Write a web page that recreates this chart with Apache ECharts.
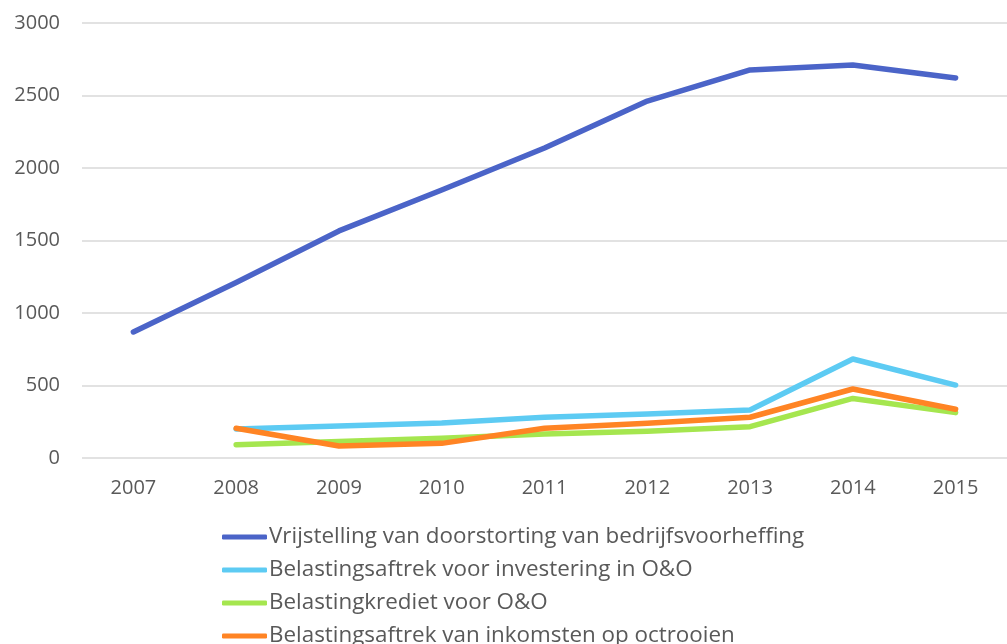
<!DOCTYPE html>
<html><head><meta charset="utf-8">
<script src="https://cdn.jsdelivr.net/npm/echarts@6/dist/echarts.min.js"></script>
<style>html,body{margin:0;padding:0;background:#fff}#c{width:1007px;height:644px}</style>
</head><body><div id="c"></div>
<script>
const years = ['2007','2008','2009','2010','2011','2012','2013','2014','2015'];
const vrijstelling = [869, 1210, 1566, 1848, 2138, 2462, 2676, 2710, 2621];
const aftrekInvestering = [null, 200, 220, 241, 281, 303, 331, 683, 503];
const krediet = [null, 92, 113, 136, 166, 184, 216, 411, 313];
const octrooien = [null, 205, 83, 101, 205, 239, 281, 476, 336];
const names = ['Vrijstelling van doorstorting van bedrijfsvoorheffing','Belastingsaftrek voor investering in O&O','Belastingkrediet voor O&O','Belastingsaftrek van inkomsten op octrooien'];
const colors = ['#4B64C8','#5DCBF3','#A5E64F','#FF8424'];
const yTicks = [0, 500, 1000, 1500, 2000, 2500, 3000];
const chart = echarts.init(document.getElementById('c'), null, {renderer:'canvas'});
const mk = (i, data) => ({name:names[i], type:'line', data, symbol:'none', connectNulls:false,
  lineStyle:{width:5.5, color:colors[i], cap:'round', join:'round'}, itemStyle:{color:colors[i]}});
const legends = names.map((n, i) => ({orient:'vertical', left:217, top:521 + i*33, itemWidth:45, itemHeight:5,
  icon:'roundRect', selectedMode:false,
  textStyle:{color:'#595959', fontSize:22.4, fontFamily:'Open Sans', padding:[0,0,0,-3]},
  data:[n]}));
chart.setOption({
  animation:false,
  textStyle:{fontFamily:'Open Sans'},
  grid:{left:82, top:23, width:930, height:435, containLabel:false},
  xAxis:{type:'category', data:years, boundaryGap:true,
    axisLine:{show:false}, axisTick:{show:false},
    axisLabel:{color:'#595959', fontSize:20, margin:20, fontFamily:'Open Sans'}},
  yAxis:{type:'value', min:yTicks[0], max:yTicks[yTicks.length-1], interval:500,
    axisLine:{show:false}, axisTick:{show:false},
    splitLine:{lineStyle:{color:'#d9d9d9', width:1.5}},
    axisLabel:{color:'#595959', fontSize:20, margin:22, fontFamily:'Open Sans', formatter:v => String(v)}},
  legend:legends,
  series:[mk(0,vrijstelling), mk(1,aftrekInvestering), mk(2,krediet), mk(3,octrooien)]
});
</script></body></html>
